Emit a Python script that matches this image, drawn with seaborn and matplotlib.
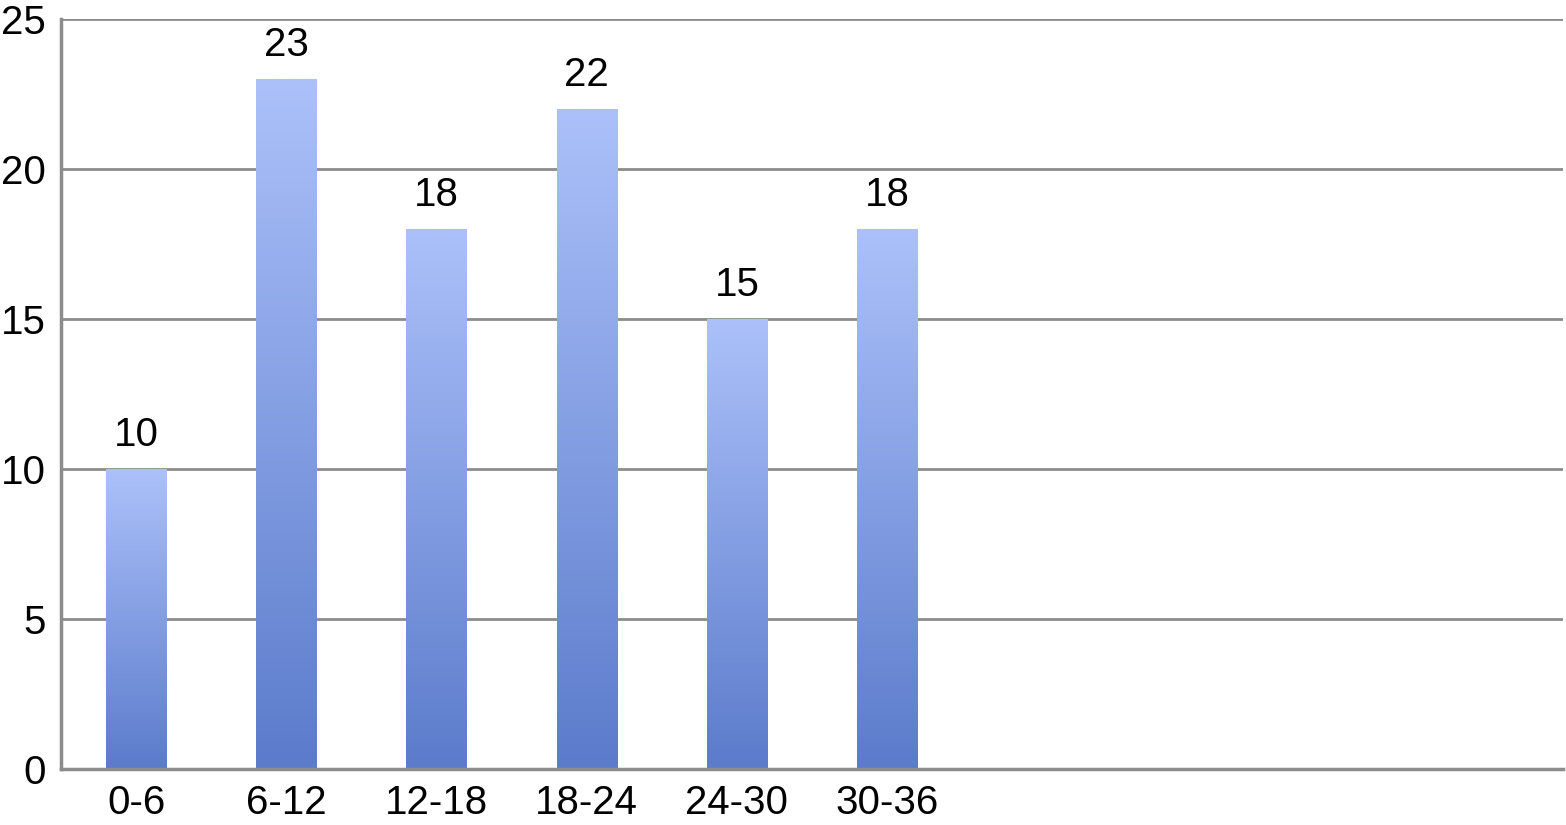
import numpy as np
import pandas as pd
import matplotlib
matplotlib.use("Agg")
import matplotlib.pyplot as plt
from matplotlib.colors import LinearSegmentedColormap
import seaborn as sns

# age bins (months) and counts
categories = ["0-6", "6-12", "12-18", "18-24", "24-30", "30-36"]
counts = [10, 23, 18, 22, 15, 18]
n_slots = 10  # chart leaves room for 10 category slots

df = pd.DataFrame({"age": categories, "count": counts})

sns.set_style("white")
plt.rcParams['font.family'] = ['Liberation Sans', 'DejaVu Sans']

fig = plt.figure(figsize=(15.66, 8.25), dpi=100)
ax = fig.add_axes([61 / 1566, 1 - 769 / 825, (1563 - 61) / 1566, (769 - 19) / 825])

sns.barplot(data=df, x="age", y="count", width=0.4, color="#8aa3e6",
            ax=ax, zorder=2)

# vertical gradient per bar: light at top, darker at bottom
cmap = LinearSegmentedColormap.from_list("barfill", ["#5b7bcb", "#acc1fa"])
grad = np.linspace(0, 1, 256).reshape(-1, 1)
for p in list(ax.patches):
    x0, y0 = p.get_x(), p.get_y()
    w, h = p.get_width(), p.get_height()
    im = ax.imshow(grad, cmap=cmap, origin="lower", aspect="auto",
                   extent=[x0, x0 + w, y0, y0 + h], zorder=2.5)
    im.set_clip_path(p)
    p.set_facecolor("none")
    p.set_edgecolor("none")
    ax.text(x0 + w / 2, h + 0.5, f"{int(h)}", ha="center", va="bottom",
            fontsize=29, color="black")

ax.set_xlim(-0.5, n_slots - 0.5)
ax.set_ylim(0, 25)
ax.set_yticks([0, 5, 10, 15, 20, 25])
ax.set_xlabel("")
ax.set_ylabel("")

ax.yaxis.grid(True, color="#8c8c8c", linewidth=2)
ax.set_axisbelow(True)
for side in ["top", "right"]:
    ax.spines[side].set_visible(False)
for side in ["left", "bottom"]:
    ax.spines[side].set_color("#8c8c8c")
    ax.spines[side].set_linewidth(2.5)

ax.tick_params(axis="both", length=0, labelsize=29, colors="black")
ax.tick_params(axis="y", pad=11)
ax.tick_params(axis="x", pad=11)

fig.savefig("out.png", dpi=100)
